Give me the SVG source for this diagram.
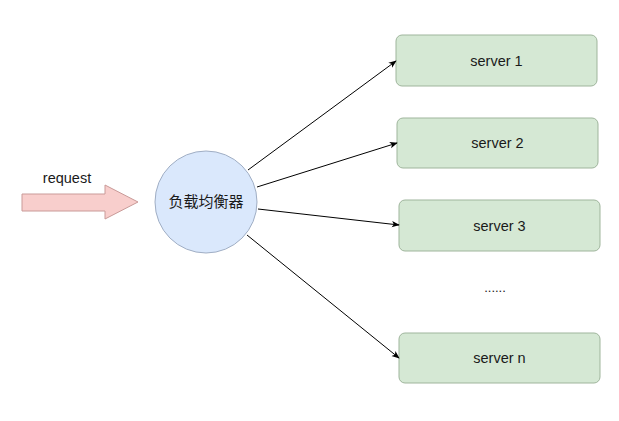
<svg xmlns="http://www.w3.org/2000/svg" width="619" height="421" viewBox="0 0 619 421">
<style>
.server rect{fill:#d5e8d4;stroke:#9fb59c;stroke-width:1}
.lbl{font-family:"Liberation Sans",Arial,sans-serif;font-size:14.5px;fill:#1a1a1a;text-anchor:middle}
.cjk{font-family:"Liberation Sans","Noto Sans CJK SC",sans-serif;font-size:15px;fill:#1a1a1a;text-anchor:middle}
.conn line{stroke:#000;stroke-width:1;fill:none;marker-end:url(#ah)}
</style>
<defs>
<marker id="ah" viewBox="0 0 10 10" refX="9" refY="5" markerWidth="8" markerHeight="8" markerUnits="userSpaceOnUse" orient="auto">
<path d="M0,1 L10,5 L0,9 L2.5,5 Z" fill="#000"/>
</marker>
</defs>
<rect width="619" height="421" fill="#fff"/>
<g id="request">
<text class="lbl" x="67" y="183">request</text>
<path d="M22,194 H105 V185 L138,202 L105,219 V211 H22 Z" fill="#f8cecc" stroke="#c99a98" stroke-width="1"/>
</g>
<g id="lb">
<circle cx="206" cy="202" r="51" fill="#dae8fc" stroke="#a0aec4" stroke-width="1"/>
<text class="cjk" x="206" y="207">负载均衡器</text>
</g>
<g id="server1" class="server">
<rect x="396" y="35" width="201" height="51" rx="6"/>
<text class="lbl" x="496.5" y="66">server 1</text>
</g>
<g id="server2" class="server">
<rect x="397" y="118" width="201" height="50" rx="6"/>
<text class="lbl" x="497.5" y="148">server 2</text>
</g>
<g id="server3" class="server">
<rect x="399" y="200" width="201" height="51" rx="6"/>
<text class="lbl" x="499.5" y="231">server 3</text>
</g>
<g id="dots">
<text class="lbl" x="495" y="292" style="font-size:13px">......</text>
</g>
<g id="servern" class="server">
<rect x="399" y="333" width="201" height="50" rx="6"/>
<text class="lbl" x="499.5" y="363">server n</text>
</g>
<g id="connectors" class="conn">
<line x1="248" y1="170" x2="396" y2="61"/>
<line x1="257" y1="187" x2="397" y2="143"/>
<line x1="258" y1="209" x2="399" y2="225"/>
<line x1="247" y1="235" x2="399" y2="358"/>
</g>
</svg>
